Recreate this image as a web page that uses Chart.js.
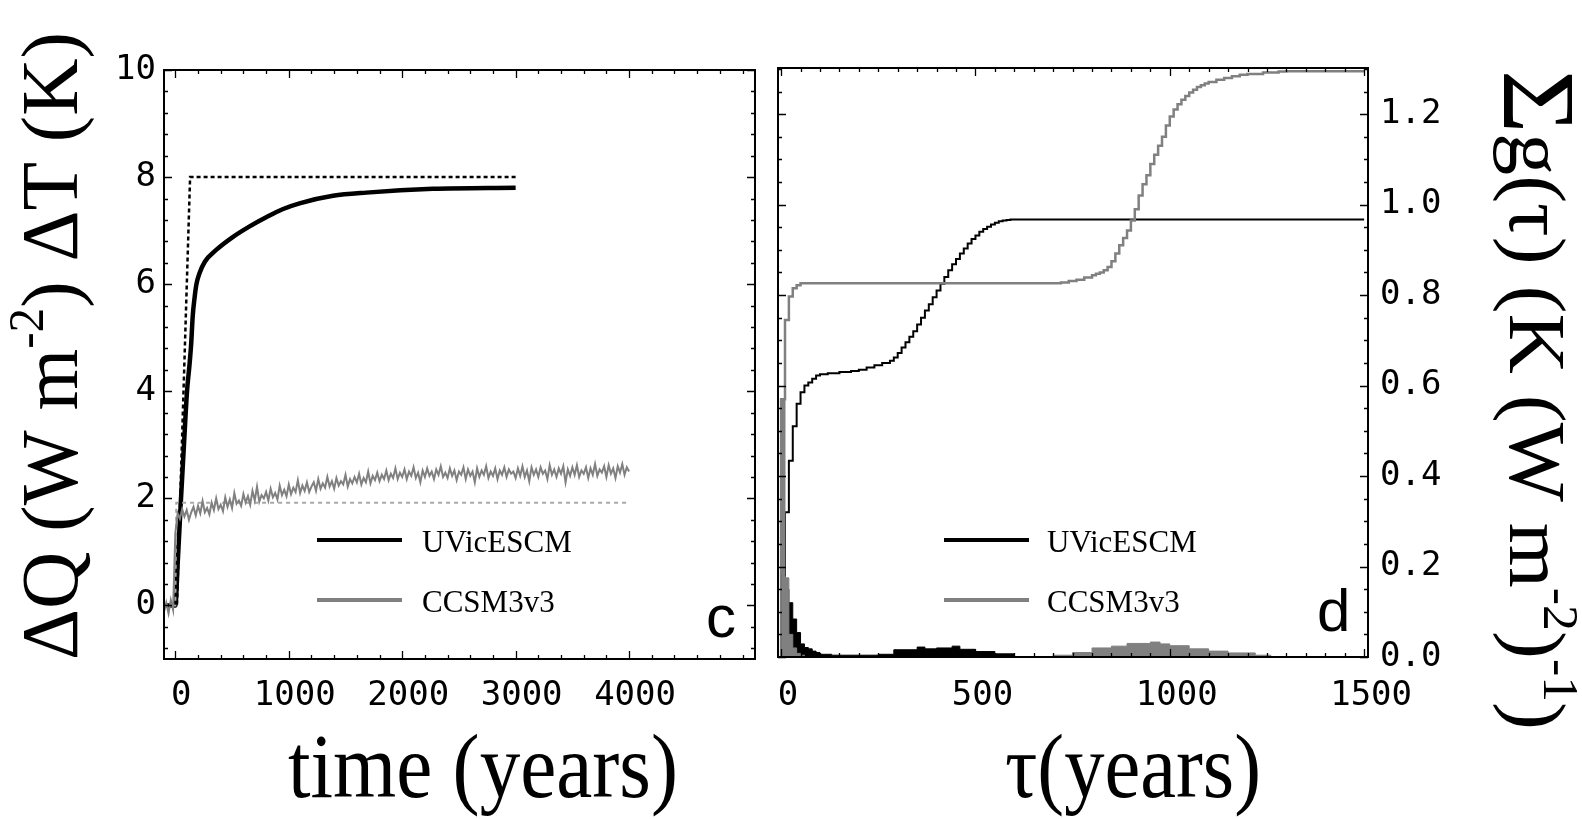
<!DOCTYPE html>
<html>
<head>
<meta charset="utf-8">
<script src="https://cdn.jsdelivr.net/npm/chart.js@4.4.1/dist/chart.umd.min.js"></script>
<style>
  html, body { margin: 0; padding: 0; background: #fff; }
  #wrap { position: relative; width: 1582px; height: 819px; overflow: hidden; background: #fff; }
  #left { position: absolute; left: 0; top: 0; }
  #right { position: absolute; left: 770px; top: 0; }
</style>
</head>
<body>
<div id="wrap">
  <canvas id="left" width="770" height="819"></canvas>
  <canvas id="right" width="812" height="819"></canvas>
</div>
<script>
//colors
const black     = '#000000';
const grey      = '#808080';
const lightGrey = '#a8a8a8';

//fonts
const serif = '"Liberation Serif", "DejaVu Serif", serif';
const mono  = '"DejaVu Sans Mono", monospace';
const sans  = '"Liberation Sans", Arial, sans-serif';

const seriesNames = ['UVicESCM', 'CCSM3v3'];

/* panel c : temperature response to a step in forcing */
const uvicYears = [-100, 0, 21, 50, 76, 103, 125, 140, 153, 168, 186, 212, 260, 360, 506, 655, 801, 945, 1095, 1390, 1684, 2270, 3000];
const uvicDT    = [0, 0, 0.8, 2.0, 3.0, 4.0, 4.5, 4.9, 5.4, 5.72, 6.0, 6.2, 6.42, 6.64, 6.88, 7.08, 7.25, 7.4, 7.51, 7.65, 7.71, 7.78, 7.8];

const uvicForceYears = [-100, 14, 130, 3000];
const uvicForce      = [0, 0, 8, 8];

const ccsmForceYears = [-100, 0, 8, 4000];
const ccsmForce      = [0, 0, 1.92, 1.92];

// yearly model output, sampled every 20 years from -100
const ccsmStart = -100;
const ccsmStep  = 20;
const ccsmDT = [
    -0.12, 0.05, -0.15, 0.10, -0.08,
    1.35, 1.72, 1.62, 1.80, 1.66, 1.78, 1.60, 1.74, 1.84, 1.68,
    1.86, 1.72, 1.95, 1.74, 1.82, 1.70, 1.92, 1.78, 2.00, 1.80,
    1.88, 1.76, 2.02, 1.84, 1.98, 1.82, 2.10, 1.90, 1.96, 1.86,
    2.08, 1.92, 2.04, 1.88, 2.14, 1.96, 2.22, 1.94, 2.06, 2.00,
    2.12, 1.96, 2.18, 2.02, 2.10, 1.98, 2.24, 2.06, 2.16, 2.04,
    2.26, 2.08, 2.20, 2.12, 2.34, 2.10, 2.24, 2.14, 2.30, 2.12,
    2.22, 2.30, 2.14, 2.36, 2.18, 2.28, 2.20, 2.40, 2.22, 2.32,
    2.18, 2.38, 2.24, 2.32, 2.26, 2.44, 2.22, 2.36, 2.28, 2.40,
    2.30, 2.46, 2.26, 2.38, 2.30, 2.50, 2.28, 2.42, 2.34, 2.48,
    2.32, 2.44, 2.36, 2.52, 2.34, 2.46, 2.38, 2.56, 2.36, 2.48,
    2.40, 2.54, 2.36, 2.50, 2.42, 2.58, 2.38, 2.48, 2.30, 2.52,
    2.40, 2.56, 2.42, 2.50, 2.36, 2.54, 2.44, 2.60, 2.40, 2.48,
    2.38, 2.56, 2.42, 2.52, 2.34, 2.50, 2.44, 2.58, 2.36, 2.54,
    2.42, 2.50, 2.30, 2.56, 2.40, 2.52, 2.44, 2.60, 2.38, 2.50,
    2.42, 2.56, 2.36, 2.52, 2.44, 2.58, 2.40, 2.54, 2.46, 2.50,
    2.38, 2.56, 2.42, 2.60, 2.40, 2.52, 2.32, 2.58, 2.44, 2.54,
    2.40, 2.58, 2.46, 2.52, 2.36, 2.62, 2.44, 2.54, 2.40, 2.56,
    2.46, 2.60, 2.30, 2.54, 2.42, 2.58, 2.44, 2.62, 2.40, 2.52,
    2.46, 2.58, 2.38, 2.56, 2.44, 2.64, 2.42, 2.54, 2.48, 2.60,
    2.40, 2.62, 2.46, 2.56, 2.38, 2.60, 2.48, 2.64, 2.44, 2.58,
    2.50
];
const ccsmYears = ccsmDT.map((v, i) => ccsmStart + i * ccsmStep);

const panelCxTicks = [0, 1000, 2000, 3000, 4000];
const panelCyTicks = [0, 2, 4, 6, 8, 10];

/* panel d : response function g(tau), 10 year bins, and its running sum */
const uvicBins = [0, 10, 20, 30, 40, 50, 60, 70, 80, 90, 100, 130, 250, 290, 350, 370, 400, 440, 460, 500, 550, 600, 1500];
const uvicG    = [0.183, 0.15, 0.12, 0.084, 0.054, 0.029, 0.021, 0.018, 0.013, 0.01, 0.006, 0.004, 0.006, 0.016, 0.022, 0.018, 0.02, 0.024, 0.017, 0.012, 0.007, 0, 0];

const ccsmBins = [0, 10, 20, 30, 40, 50, 60, 700, 750, 800, 850, 890, 950, 975, 1000, 1050, 1100, 1150, 1220, 1260, 1500];
const ccsmG    = [0.57, 0.175, 0.05, 0.02, 0.008, 0.004, 0, 0.004, 0.01, 0.02, 0.024, 0.03, 0.033, 0.029, 0.025, 0.018, 0.013, 0.009, 0.004, 0, 0];

const uvicSumYears = [0, 10, 20, 30, 40, 50, 60, 70, 80, 90, 100, 120, 150, 180, 200, 220, 240, 260, 280, 290,
    300, 310, 320, 330, 340, 350, 360, 370, 380, 390, 400, 410, 420, 430, 440, 450, 460, 470, 480, 490,
    500, 510, 520, 530, 540, 550, 560, 570, 580, 590, 1500];
const uvicSum = [0.18, 0.32, 0.434, 0.51, 0.56, 0.585, 0.60, 0.607, 0.615, 0.622, 0.625, 0.627, 0.630, 0.632, 0.635, 0.640, 0.645, 0.650, 0.655, 0.662,
    0.672, 0.684, 0.696, 0.708, 0.720, 0.735, 0.750, 0.766, 0.780, 0.795, 0.810, 0.825, 0.840, 0.855, 0.868, 0.880, 0.892, 0.903, 0.914, 0.924,
    0.932, 0.940, 0.946, 0.951, 0.956, 0.960, 0.963, 0.965, 0.966, 0.967, 0.967];

const ccsmSumYears = [0, 0, 10, 20, 30, 40, 50, 700, 720, 740, 760, 780, 800, 810, 820, 830, 840, 850, 860, 870, 880, 890,
    900, 910, 920, 930, 940, 950, 960, 970, 980, 990, 1000, 1010, 1020, 1030, 1040, 1050, 1060, 1070, 1080, 1090, 1100,
    1120, 1140, 1160, 1180, 1200, 1240, 1280, 1300, 1500];
const ccsmSum = [0, 0.57, 0.745, 0.797, 0.815, 0.822, 0.826, 0.826, 0.828, 0.831, 0.834, 0.839, 0.844, 0.847, 0.850, 0.855, 0.862, 0.875, 0.892, 0.910, 0.926, 0.943,
    0.965, 0.990, 1.020, 1.045, 1.065, 1.090, 1.110, 1.130, 1.150, 1.175, 1.195, 1.210, 1.222, 1.232, 1.240, 1.248, 1.254, 1.260, 1.264, 1.268, 1.271,
    1.276, 1.280, 1.284, 1.287, 1.289, 1.292, 1.294, 1.295, 1.295];

const panelDxTicks = [0, 500, 1000, 1500];
const panelDyTicks = [0, 0.2, 0.4, 0.6, 0.8, 1.0, 1.2];

const pts = (xs, ys) => xs.map((x, i) => ({x: x, y: ys[i]}));

// box round the plot with inward ticks on all four sides
const boxTicks = {
    id: 'boxTicks',
    afterDatasetsDraw(chart, args, o) {
        const ctx = chart.ctx, a = chart.chartArea;
        const xs = chart.scales.x, ys = chart.scales.y;
        const isMajor = (list, v, step) => list.some(m => Math.abs(m - v) < step * 1e-3);
        ctx.save();
        ctx.strokeStyle = black;
        ctx.lineWidth = 1.3;
        ctx.beginPath();
        for (let k = Math.ceil(xs.min / o.xMinor); k * o.xMinor <= xs.max; k++) {
            const v = k * o.xMinor;
            const p = Math.round(xs.getPixelForValue(v)) + 0.5;
            const len = isMajor(o.xMajor, v, o.xMinor) ? 8 : 4;
            ctx.moveTo(p, a.bottom); ctx.lineTo(p, a.bottom - len);
            ctx.moveTo(p, a.top);    ctx.lineTo(p, a.top + len);
        }
        for (let k = Math.ceil(ys.min / o.yMinor - 1e-9); k * o.yMinor <= ys.max + 1e-9; k++) {
            const v = k * o.yMinor;
            const p = Math.round(ys.getPixelForValue(v)) + 0.5;
            const len = isMajor(o.yMajor, v, o.yMinor) ? 8 : 4;
            ctx.moveTo(a.left, p);  ctx.lineTo(a.left + len, p);
            ctx.moveTo(a.right, p); ctx.lineTo(a.right - len, p);
        }
        ctx.stroke();
        ctx.lineWidth = 2;
        ctx.strokeRect(a.left, a.top, a.width, a.height);
        ctx.restore();
    }
};

// text made of pieces, some raised, stretched to a given length
function drawRich(ctx, spec) {
    const sizeOf = p => spec.size * (p.scale || (p.sup ? 0.62 : 1));
    const widths = spec.parts.map(p => {
        ctx.font = sizeOf(p) + 'px ' + serif;
        return ctx.measureText(p.t).width;
    });
    const total = widths.reduce((s, w) => s + w, 0);
    ctx.save();
    ctx.translate(spec.x, spec.y);
    ctx.rotate(spec.angle || 0);
    ctx.scale(spec.length / total, 1);
    ctx.fillStyle = black;
    ctx.textAlign = 'left';
    ctx.textBaseline = 'alphabetic';
    let x = 0;
    spec.parts.forEach((p, i) => {
        ctx.font = sizeOf(p) + 'px ' + serif;
        const dy = p.sup ? -spec.size * 0.42 : (p.dy || 0) * spec.size;
        ctx.fillText(p.t, x, dy);
        x += widths[i];
    });
    ctx.restore();
}

// legend, panel letter and axis titles
const decorations = {
    id: 'decorations',
    afterDraw(chart, args, o) {
        const ctx = chart.ctx;
        ctx.save();
        const lg = o.legend;
        seriesNames.forEach((name, i) => {
            const y = lg.ys[i];
            ctx.strokeStyle = i === 0 ? black : grey;
            ctx.lineWidth = 4;
            ctx.beginPath();
            ctx.moveTo(lg.x0, y);
            ctx.lineTo(lg.x1, y);
            ctx.stroke();
            ctx.fillStyle = black;
            ctx.font = '31px ' + serif;
            ctx.textBaseline = 'alphabetic';
            ctx.fillText(name, lg.tx, y + 12);
        });
        ctx.font = '60px ' + sans;
        ctx.fillStyle = black;
        ctx.fillText(o.letter.t, o.letter.x, o.letter.y);
        o.titles.forEach(t => drawRich(ctx, t));
        ctx.restore();
    }
};

const tickFont = {family: mono, size: 34};

// keep the plot box where the layout padding puts it
const fixX = h => s => { s.height = h; s.paddingLeft = 0; s.paddingRight = 0; };
const fixY = w => s => { s.width = w; s.paddingTop = 0; s.paddingBottom = 0; };

new Chart(document.getElementById('left'), {
    type: 'line',
    data: {
        datasets: [{
            label: 'CCSM3v3 dT',
            data: pts(ccsmYears, ccsmDT),
            borderColor: grey,
            borderWidth: 2,
        }, {
            label: 'CCSM3v3 dQ',
            data: pts(ccsmForceYears, ccsmForce),
            borderColor: lightGrey,
            borderWidth: 2,
            borderDash: [4, 4],
        }, {
            label: 'UVicESCM dT',
            data: pts(uvicYears, uvicDT),
            borderColor: black,
            borderWidth: 4.5,
            cubicInterpolationMode: 'monotone',
        }, {
            label: 'UVicESCM dQ',
            data: pts(uvicForceYears, uvicForce),
            borderColor: black,
            borderWidth: 2.5,
            borderDash: [4, 3],
        }]
    },
    plugins: [boxTicks, decorations],
    options: {
        responsive: false,
        animation: false,
        devicePixelRatio: 1,
        layout: { padding: { left: 0, top: 70, right: 15, bottom: 0 } },
        elements: { point: { radius: 0 }, line: { tension: 0, fill: false } },
        plugins: {
            legend: { display: false },
            tooltip: { enabled: false },
            boxTicks: { xMajor: panelCxTicks, xMinor: 200, yMajor: panelCyTicks, yMinor: 0.4 },
            decorations: {
                legend: { x0: 317, x1: 402, tx: 422, ys: [540, 600] },
                letter: { t: 'c', x: 706, y: 637 },
                titles: [{
                    x: 77, y: 660, angle: -Math.PI / 2, length: 628, size: 80,
                    parts: [{t: 'ΔQ (W m'}, {t: '-2', sup: true}, {t: ') ΔT (K)'}]
                }, {
                    x: 288, y: 797, length: 390, size: 92,
                    parts: [{t: 'time (years)'}]
                }]
            }
        },
        scales: {
            x: {
                type: 'linear',
                min: -100,
                max: 5110,
                grid: { display: false, drawTicks: false },
                border: { display: false },
                afterBuildTicks: s => { s.ticks = panelCxTicks.map(v => ({value: v})); },
                afterFit: fixX(160),
                ticks: {
                    font: tickFont, color: black, padding: 17, labelOffset: 6,
                    maxRotation: 0, autoSkip: false,
                    callback: v => String(v)
                }
            },
            y: {
                type: 'linear',
                min: -1,
                max: 10,
                grid: { display: false, drawTicks: false },
                border: { display: false },
                afterBuildTicks: s => { s.ticks = panelCyTicks.map(v => ({value: v})); },
                afterFit: fixY(164),
                ticks: {
                    font: tickFont, color: black, padding: 8, autoSkip: false,
                    callback: v => String(v)
                }
            }
        }
    }
});

new Chart(document.getElementById('right'), {
    type: 'line',
    data: {
        datasets: [{
            label: 'CCSM3v3 g',
            data: pts(ccsmBins, ccsmG),
            stepped: true,
            fill: 'origin',
            backgroundColor: grey,
            borderColor: grey,
            borderWidth: 1,
        }, {
            label: 'UVicESCM g',
            data: pts(uvicBins, uvicG),
            stepped: true,
            fill: 'origin',
            backgroundColor: black,
            borderColor: black,
            borderWidth: 1,
        }, {
            label: 'CCSM3v3 sum',
            data: pts(ccsmSumYears, ccsmSum),
            stepped: true,
            borderColor: grey,
            borderWidth: 2.5,
        }, {
            label: 'UVicESCM sum',
            data: pts(uvicSumYears, uvicSum),
            stepped: true,
            borderColor: black,
            borderWidth: 2,
        }]
    },
    plugins: [boxTicks, decorations],
    options: {
        responsive: false,
        animation: false,
        devicePixelRatio: 1,
        layout: { padding: { left: 8, top: 68, right: 0, bottom: 0 } },
        elements: { point: { radius: 0 }, line: { tension: 0 } },
        plugins: {
            legend: { display: false },
            tooltip: { enabled: false },
            filler: { propagate: false },
            boxTicks: { xMajor: panelDxTicks, xMinor: 50, yMajor: panelDyTicks, yMinor: 0.05 },
            decorations: {
                legend: { x0: 174, x1: 259, tx: 277, ys: [540, 600] },
                letter: { t: 'd', x: 547, y: 631 },
                titles: [{
                    x: 235, y: 797, length: 256, size: 92,
                    parts: [{t: 'τ(years)'}]
                }, {
                    x: 740, y: 70, angle: Math.PI / 2, length: 660, size: 80,
                    parts: [{t: 'Σ', scale: 1.3, dy: 0.08}, {t: 'g(τ) (K (W m'}, {t: '-2', sup: true}, {t: ')'}, {t: '-1', sup: true}, {t: ')'}]
                }]
            }
        },
        scales: {
            x: {
                type: 'linear',
                min: -8,
                max: 1510,
                grid: { display: false, drawTicks: false },
                border: { display: false },
                afterBuildTicks: s => { s.ticks = panelDxTicks.map(v => ({value: v})); },
                afterFit: fixX(162),
                ticks: {
                    font: tickFont, color: black, padding: 19, labelOffset: 7,
                    maxRotation: 0, autoSkip: false,
                    callback: v => String(v)
                }
            },
            y: {
                type: 'linear',
                position: 'right',
                min: 0,
                max: 1.302,
                grid: { display: false, drawTicks: false },
                border: { display: false },
                afterBuildTicks: s => { s.ticks = panelDyTicks.map(v => ({value: v})); },
                afterFit: fixY(214),
                ticks: {
                    font: tickFont, color: black, padding: 12, autoSkip: false,
                    callback: v => v.toFixed(1)
                }
            }
        }
    }
});
</script>
</body>
</html>
